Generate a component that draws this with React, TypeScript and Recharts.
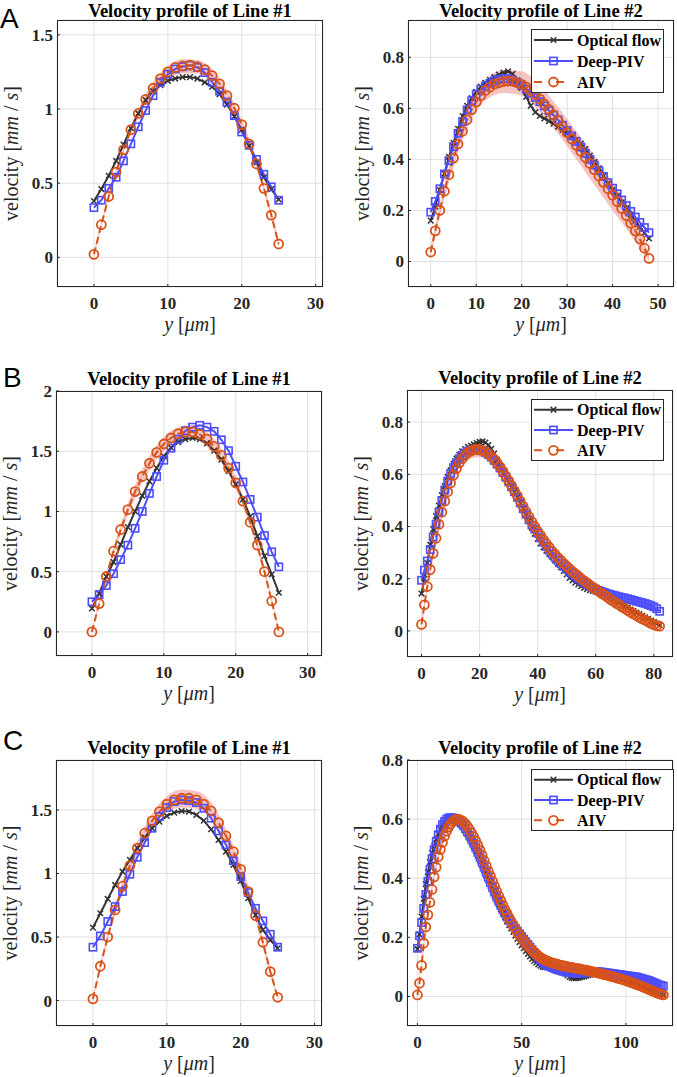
import { ComposedChart, Line, Area, XAxis, YAxis, CartesianGrid } from 'recharts';

const SERIF = '"Liberation Serif", "Times New Roman", Times, serif';
const SANS = '"Liberation Sans", Arial, Helvetica, sans-serif';
const C_OF = '#333333';
const C_PIV = '#4d4dff';
const C_AIV = '#d95319';
const C_BAND = '#f0b0ae';
const C_AXIS = '#262626';

const SERIES_NAMES = ['Optical flow', 'Deep-PIV', 'AIV'];
const TITLE_1 = 'Velocity profile of Line #1';
const TITLE_2 = 'Velocity profile of Line #2';

// ---- row A ----
const A1_OF = [0.38, 0.46, 0.55, 0.65, 0.76, 0.87, 0.97, 1.06, 1.12, 1.16, 1.19, 1.205, 1.215, 1.215, 1.205, 1.18, 1.15, 1.1, 1.03, 0.95, 0.86, 0.75, 0.64, 0.54, 0.46, 0.39];
const A1_PIV = [0.335, 0.385, 0.465, 0.54, 0.65, 0.765, 0.88, 0.99, 1.09, 1.18, 1.235, 1.27, 1.285, 1.295, 1.28, 1.245, 1.18, 1.12, 1.045, 0.955, 0.845, 0.755, 0.66, 0.56, 0.475, 0.385];
const A1_AIV = [0.02, 0.22, 0.41, 0.575, 0.725, 0.86, 0.97, 1.065, 1.14, 1.205, 1.25, 1.28, 1.29, 1.295, 1.285, 1.265, 1.225, 1.17, 1.09, 1.005, 0.895, 0.765, 0.63, 0.465, 0.285, 0.09];
const A1_BAND_X = [0, 2, 4, 6, 8, 10, 12, 14, 16, 18, 20, 22, 24, 25];
const A1_BAND_LO = [0.0, 0.39, 0.7, 0.94, 1.1, 1.2, 1.24, 1.24, 1.18, 1.05, 0.86, 0.6, 0.26, 0.07];
const A1_BAND_HI = [0.04, 0.43, 0.75, 1.0, 1.18, 1.29, 1.335, 1.33, 1.27, 1.13, 0.93, 0.66, 0.31, 0.11];

const A2_OF = [0.16, 0.215, 0.28, 0.345, 0.41, 0.465, 0.52, 0.57, 0.61, 0.64, 0.665, 0.685, 0.7, 0.712, 0.722, 0.732, 0.74, 0.745, 0.735, 0.71, 0.68, 0.645, 0.61, 0.585, 0.57, 0.56, 0.55, 0.54, 0.528, 0.515, 0.502, 0.49, 0.477, 0.462, 0.44, 0.415, 0.39, 0.365, 0.335, 0.305, 0.28, 0.256, 0.232, 0.208, 0.184, 0.16, 0.136, 0.112, 0.09];
const A2_PIV = [0.193, 0.235, 0.285, 0.343, 0.395, 0.45, 0.502, 0.548, 0.594, 0.63, 0.655, 0.675, 0.688, 0.698, 0.707, 0.714, 0.716, 0.716, 0.711, 0.702, 0.689, 0.675, 0.659, 0.642, 0.626, 0.609, 0.591, 0.573, 0.555, 0.534, 0.513, 0.492, 0.47, 0.448, 0.424, 0.4, 0.378, 0.356, 0.333, 0.309, 0.287, 0.265, 0.241, 0.219, 0.196, 0.174, 0.153, 0.133, 0.113];
const A2_AIV = [0.037, 0.12, 0.2, 0.275, 0.34, 0.405, 0.46, 0.51, 0.555, 0.595, 0.625, 0.65, 0.67, 0.683, 0.695, 0.7, 0.705, 0.707, 0.706, 0.7, 0.694, 0.683, 0.67, 0.653, 0.636, 0.616, 0.596, 0.574, 0.552, 0.528, 0.505, 0.48, 0.456, 0.432, 0.408, 0.384, 0.36, 0.335, 0.31, 0.285, 0.26, 0.235, 0.208, 0.18, 0.15, 0.12, 0.088, 0.052, 0.012];
const A2_BAND_X = [0, 4, 8, 12, 16, 20, 24, 28, 32, 36, 40, 44, 48];
const A2_BAND_LO = [0.02, 0.31, 0.52, 0.63, 0.66, 0.65, 0.585, 0.5, 0.4, 0.3, 0.2, 0.105, 0.0];
const A2_BAND_HI = [0.06, 0.37, 0.59, 0.71, 0.75, 0.745, 0.69, 0.605, 0.51, 0.415, 0.31, 0.2, 0.03];

// ---- row B ----
const B1_OF = [0.195, 0.32, 0.46, 0.58, 0.725, 0.87, 1.0, 1.13, 1.25, 1.36, 1.46, 1.53, 1.575, 1.6, 1.61, 1.6, 1.565, 1.505, 1.43, 1.335, 1.225, 1.1, 0.96, 0.795, 0.63, 0.478, 0.325];
const B1_PIV = [0.25, 0.31, 0.385, 0.483, 0.6, 0.72, 0.86, 1.0, 1.15, 1.29, 1.425, 1.525, 1.6, 1.67, 1.7, 1.715, 1.7, 1.665, 1.595, 1.505, 1.375, 1.245, 1.1, 0.953, 0.8, 0.665, 0.54];
const B1_AIV = [0.0, 0.235, 0.46, 0.67, 0.85, 1.015, 1.165, 1.29, 1.4, 1.49, 1.56, 1.61, 1.645, 1.66, 1.66, 1.64, 1.6, 1.54, 1.465, 1.36, 1.237, 1.085, 0.91, 0.72, 0.5, 0.257, 0.0];
const B1_BAND_X = [0, 2, 4, 6, 8, 10, 12, 14, 16, 18, 20, 22, 24, 26];
const B1_BAND_LO = [-0.01, 0.43, 0.81, 1.11, 1.34, 1.5, 1.59, 1.6, 1.54, 1.41, 1.19, 0.87, 0.47, -0.01];
const B1_BAND_HI = [0.02, 0.49, 0.89, 1.22, 1.46, 1.62, 1.7, 1.72, 1.66, 1.52, 1.29, 0.95, 0.53, 0.02];

const B2_OF = [
  0.143, 0.2, 0.26, 0.33, 0.39, 0.44, 0.48, 0.52, 0.555, 0.59,
  0.615, 0.64, 0.66, 0.675, 0.688, 0.697, 0.705, 0.71, 0.715, 0.72,
  0.724, 0.726, 0.722, 0.712, 0.698, 0.68, 0.655, 0.63, 0.605, 0.585,
  0.568, 0.55, 0.532, 0.512, 0.49, 0.468, 0.445, 0.42, 0.395, 0.372,
  0.352, 0.335, 0.32, 0.307, 0.295, 0.283, 0.27, 0.257, 0.244, 0.23,
  0.216, 0.203, 0.193, 0.185, 0.178, 0.171, 0.165, 0.16, 0.156, 0.153,
  0.15, 0.147, 0.143, 0.139, 0.134, 0.128, 0.122, 0.115, 0.108, 0.101,
  0.094, 0.088, 0.082, 0.076, 0.07, 0.064, 0.058, 0.052, 0.046, 0.04,
  0.034, 0.028, 0.022,
];
const B2_PIV = [
  0.194, 0.233, 0.268, 0.312, 0.36, 0.409, 0.456, 0.5, 0.54, 0.574,
  0.603, 0.626, 0.645, 0.66, 0.673, 0.682, 0.689, 0.693, 0.695, 0.695,
  0.694, 0.69, 0.684, 0.676, 0.666, 0.653, 0.639, 0.624, 0.607, 0.589,
  0.571, 0.552, 0.533, 0.512, 0.49, 0.468, 0.447, 0.426, 0.406, 0.39,
  0.375, 0.357, 0.34, 0.324, 0.309, 0.295, 0.282, 0.27, 0.258, 0.247,
  0.237, 0.227, 0.218, 0.209, 0.2, 0.192, 0.185, 0.178, 0.171, 0.165,
  0.16, 0.155, 0.151, 0.147, 0.143, 0.14, 0.137, 0.134, 0.131, 0.128,
  0.126, 0.123, 0.12, 0.117, 0.114, 0.111, 0.108, 0.105, 0.101, 0.097,
  0.092, 0.085, 0.075,
];
const B2_AIV = [
  0.025, 0.1, 0.17, 0.235, 0.297, 0.355, 0.408, 0.455, 0.497, 0.533,
  0.567, 0.597, 0.622, 0.644, 0.66, 0.673, 0.684, 0.69, 0.694, 0.695,
  0.694, 0.691, 0.686, 0.679, 0.668, 0.657, 0.644, 0.629, 0.612, 0.594,
  0.576, 0.557, 0.537, 0.518, 0.497, 0.477, 0.456, 0.437, 0.418, 0.4,
  0.382, 0.366, 0.349, 0.334, 0.32, 0.305, 0.293, 0.281, 0.27, 0.258,
  0.248, 0.238, 0.227, 0.219, 0.21, 0.2, 0.192, 0.184, 0.175, 0.167,
  0.16, 0.152, 0.144, 0.137, 0.129, 0.121, 0.114, 0.106, 0.1, 0.092,
  0.086, 0.078, 0.072, 0.065, 0.059, 0.052, 0.046, 0.041, 0.035, 0.029,
  0.024, 0.02, 0.018,
];
const B2_BAND_X = [0, 5, 10, 15, 20, 25, 30, 35, 40, 45, 50, 55, 60, 65, 70, 75, 80, 82];
const B2_BAND_LO = [0.01, 0.33, 0.54, 0.65, 0.665, 0.635, 0.555, 0.457, 0.364, 0.29, 0.234, 0.187, 0.147, 0.109, 0.074, 0.041, 0.014, 0.008];
const B2_BAND_HI = [0.04, 0.38, 0.595, 0.7, 0.72, 0.68, 0.597, 0.497, 0.4, 0.32, 0.262, 0.213, 0.173, 0.133, 0.098, 0.063, 0.034, 0.028];

// ---- row C ----
const C1_OF = [0.574, 0.687, 0.8, 0.91, 1.015, 1.107, 1.2, 1.282, 1.356, 1.408, 1.453, 1.479, 1.492, 1.487, 1.461, 1.416, 1.348, 1.264, 1.172, 1.067, 0.942, 0.805, 0.674, 0.556, 0.477, 0.412];
const C1_PIV = [0.42, 0.509, 0.622, 0.74, 0.858, 0.994, 1.128, 1.243, 1.356, 1.448, 1.519, 1.566, 1.579, 1.574, 1.558, 1.513, 1.435, 1.335, 1.225, 1.1, 0.976, 0.85, 0.726, 0.627, 0.522, 0.42];
const C1_AIV = [0.013, 0.27, 0.5, 0.713, 0.9, 1.062, 1.2, 1.317, 1.414, 1.487, 1.545, 1.579, 1.592, 1.592, 1.579, 1.545, 1.492, 1.4, 1.296, 1.172, 1.033, 0.858, 0.669, 0.459, 0.228, 0.026];
const C1_BAND_X = [0, 2, 4, 6, 8, 10, 12, 14, 16, 18, 20, 22, 24, 25];
const C1_BAND_LO = [0.0, 0.47, 0.86, 1.15, 1.35, 1.48, 1.52, 1.51, 1.43, 1.24, 0.99, 0.63, 0.2, 0.01];
const C1_BAND_HI = [0.03, 0.53, 0.94, 1.25, 1.47, 1.61, 1.66, 1.65, 1.56, 1.35, 1.08, 0.71, 0.26, 0.04];

const C2_OF = [
  0.16, 0.21, 0.27, 0.33, 0.38, 0.42, 0.455, 0.485, 0.51, 0.532,
  0.55, 0.566, 0.579, 0.589, 0.596, 0.6, 0.602, 0.602, 0.6, 0.596,
  0.59, 0.582, 0.572, 0.561, 0.548, 0.535, 0.521, 0.507, 0.492, 0.476,
  0.46, 0.443, 0.426, 0.409, 0.392, 0.375, 0.358, 0.342, 0.326, 0.311,
  0.296, 0.282, 0.268, 0.255, 0.242, 0.23, 0.218, 0.206, 0.195, 0.184,
  0.173, 0.163, 0.153, 0.144, 0.135, 0.127, 0.12, 0.114, 0.108, 0.104,
  0.1, 0.099, 0.099, 0.1, 0.102, 0.104, 0.104, 0.102, 0.098, 0.092,
  0.085, 0.078, 0.071, 0.066, 0.063, 0.062, 0.062, 0.063, 0.064, 0.066,
  0.068, 0.07, 0.072, 0.074, 0.075, 0.076, 0.076, 0.076, 0.075, 0.074,
  0.073, 0.071, 0.069, 0.067, 0.065, 0.062, 0.06, 0.057, 0.055, 0.052,
  0.05, 0.047, 0.045, 0.042, 0.04, 0.037, 0.035, 0.032, 0.03, 0.027,
  0.025, 0.022, 0.02, 0.017, 0.015, 0.012, 0.01, 0.008, 0.006,
];
const C2_PIV = [
  0.163, 0.205, 0.25, 0.298, 0.345, 0.39, 0.43, 0.466, 0.497, 0.524,
  0.547, 0.566, 0.581, 0.592, 0.6, 0.604, 0.605, 0.604, 0.601, 0.596,
  0.592, 0.586, 0.578, 0.568, 0.557, 0.545, 0.532, 0.518, 0.503, 0.487,
  0.471, 0.454, 0.437, 0.42, 0.403, 0.386, 0.369, 0.353, 0.337, 0.322,
  0.308, 0.294, 0.281, 0.269, 0.257, 0.246, 0.24, 0.23, 0.221, 0.212,
  0.203, 0.194, 0.185, 0.176, 0.167, 0.158, 0.149, 0.141, 0.133, 0.125,
  0.118, 0.112, 0.107, 0.103, 0.1, 0.097, 0.094, 0.091, 0.089, 0.087,
  0.085, 0.083, 0.082, 0.081, 0.08, 0.079, 0.079, 0.079, 0.079, 0.079,
  0.08, 0.081, 0.082, 0.083, 0.084, 0.084, 0.084, 0.083, 0.083, 0.082,
  0.081, 0.08, 0.079, 0.078, 0.077, 0.076, 0.075, 0.074, 0.073, 0.072,
  0.071, 0.07, 0.069, 0.068, 0.067, 0.066, 0.064, 0.062, 0.06, 0.058,
  0.056, 0.054, 0.051, 0.048, 0.045, 0.042, 0.039, 0.037, 0.035,
];
const C2_AIV = [
  0.005, 0.045, 0.105, 0.18, 0.235, 0.276, 0.318, 0.362, 0.404, 0.437,
  0.473, 0.497, 0.521, 0.542, 0.559, 0.573, 0.584, 0.592, 0.597, 0.6,
  0.599, 0.596, 0.591, 0.584, 0.575, 0.565, 0.553, 0.54, 0.526, 0.511,
  0.495, 0.478, 0.46, 0.442, 0.424, 0.407, 0.39, 0.373, 0.356, 0.34,
  0.324, 0.309, 0.294, 0.28, 0.266, 0.253, 0.24, 0.228, 0.217, 0.207,
  0.197, 0.188, 0.179, 0.171, 0.163, 0.156, 0.149, 0.143, 0.137, 0.132,
  0.128, 0.124, 0.121, 0.118, 0.115, 0.113, 0.111, 0.109, 0.107, 0.105,
  0.104, 0.102, 0.101, 0.099, 0.098, 0.097, 0.095, 0.094, 0.093, 0.091,
  0.09, 0.089, 0.087, 0.086, 0.084, 0.082, 0.081, 0.079, 0.077, 0.075,
  0.074, 0.072, 0.07, 0.068, 0.066, 0.064, 0.062, 0.06, 0.058, 0.056,
  0.054, 0.051, 0.049, 0.046, 0.044, 0.041, 0.038, 0.036, 0.033, 0.03,
  0.027, 0.024, 0.021, 0.018, 0.015, 0.012, 0.009, 0.007, 0.005,
];
const C2_BAND_X = [0, 10, 19, 30, 40, 50, 60, 70, 80, 90, 100, 110, 118];
const C2_BAND_LO = [0.0, 0.458, 0.585, 0.48, 0.31, 0.184, 0.116, 0.092, 0.079, 0.063, 0.044, 0.017, -0.004];
const C2_BAND_HI = [0.02, 0.488, 0.615, 0.51, 0.338, 0.21, 0.14, 0.116, 0.101, 0.085, 0.064, 0.037, 0.014];

// sample spacing along the line, in um
const STEP = 1;

const toPoints = (vals: number[]) => vals.map((v, i) => ({ x: i * STEP, v }));
const toBand = (xs: number[], lo: number[], hi: number[]) => xs.map((x, i) => ({ x, band: [lo[i], hi[i]] }));

const PANELS = [
  { id: 'A1', left: 57, top: 20, w: 266, h: 267, gap: 3.5, title: TITLE_1, xDomain: [-5, 31], xTicks: [0, 10, 20, 30], yDomain: [-0.2, 1.6], yTicks: [0, 0.5, 1, 1.5],
    of: A1_OF, piv: A1_PIV, aiv: A1_AIV, band: toBand(A1_BAND_X, A1_BAND_LO, A1_BAND_HI) },
  { id: 'A2', left: 408, top: 20, w: 266, h: 267, gap: 3.5, title: TITLE_2, xDomain: [-5, 53.5], xTicks: [0, 10, 20, 30, 40, 50], yDomain: [-0.1, 0.946], yTicks: [0, 0.2, 0.4, 0.6, 0.8],
    of: A2_OF, piv: A2_PIV, aiv: A2_AIV, band: toBand(A2_BAND_X, A2_BAND_LO, A2_BAND_HI), legend: { dx: 123, dy: 9, w: 132, h: 63 } },
  { id: 'B1', left: 56, top: 391, w: 266, h: 265, gap: 6, title: TITLE_1, xDomain: [-5, 32], xTicks: [0, 10, 20, 30], yDomain: [-0.2, 2], yTicks: [0, 0.5, 1, 1.5, 2],
    of: B1_OF, piv: B1_PIV, aiv: B1_AIV, band: toBand(B1_BAND_X, B1_BAND_LO, B1_BAND_HI) },
  { id: 'B2', left: 407, top: 390, w: 266, h: 267, gap: 6, title: TITLE_2, xDomain: [-5, 86.6], xTicks: [0, 20, 40, 60, 80], yDomain: [-0.1, 0.923], yTicks: [0, 0.2, 0.4, 0.6, 0.8],
    of: B2_OF, piv: B2_PIV, aiv: B2_AIV, band: toBand(B2_BAND_X, B2_BAND_LO, B2_BAND_HI), legend: { dx: 124, dy: 9, w: 132, h: 61 } },
  { id: 'C1', left: 56, top: 760, w: 266, h: 266, gap: 6, title: TITLE_1, xDomain: [-5, 31], xTicks: [0, 10, 20, 30], yDomain: [-0.2, 1.893], yTicks: [0, 0.5, 1, 1.5],
    of: C1_OF, piv: C1_PIV, aiv: C1_AIV, band: toBand(C1_BAND_X, C1_BAND_LO, C1_BAND_HI) },
  { id: 'C2', left: 407, top: 760, w: 266, h: 266, gap: 6, title: TITLE_2, xDomain: [-5, 122.6], xTicks: [0, 50, 100], yDomain: [-0.1, 0.8], yTicks: [0, 0.2, 0.4, 0.6, 0.8],
    of: C2_OF, piv: C2_PIV, aiv: C2_AIV, band: toBand(C2_BAND_X, C2_BAND_LO, C2_BAND_HI), legend: { dx: 124, dy: 9, w: 142, h: 61 } },
];

const LETTERS = [
  { t: 'A', x: 0, y: 28 },
  { t: 'B', x: 3, y: 387 },
  { t: 'C', x: 3, y: 750 },
];

// markers
const crossPath = (cx: number, cy: number, r = 2.8) =>
  `M${cx - r} ${cy - r}L${cx + r} ${cy + r}M${cx - r} ${cy + r}L${cx + r} ${cy - r}`;

const CrossMark = ({ cx, cy }: { cx: number; cy: number }) => (
  <path d={crossPath(cx, cy)} stroke={C_OF} strokeWidth={1.5} fill="none" />
);
const SquareMark = ({ cx, cy }: { cx: number; cy: number }) => (
  <rect x={cx - 3.6} y={cy - 3.6} width={7.2} height={7.2} stroke={C_PIV} strokeWidth={1.6} fill="none" />
);
const CircleMark = ({ cx, cy }: { cx: number; cy: number }) => (
  <circle cx={cx} cy={cy} r={4.5} stroke={C_AIV} strokeWidth={1.8} fill="none" />
);

const dotOf = (Mark: any) => (p: any) => {
  if (p.cx == null || p.cy == null) return <g key={p.index} />;
  return <Mark key={p.index} cx={p.cx} cy={p.cy} />;
};

const tickText = { fill: C_AXIS, fontSize: 17, fontWeight: 700, fontFamily: SERIF };

const XTick = (p: any) => (
  <text x={p.x} y={p.y} dy="0.71em" textAnchor="middle" style={tickText} fill={C_AXIS}>{p.payload.value}</text>
);
const YTick = (p: any) => (
  <text x={p.x} y={p.y} dy="0.35em" textAnchor="end" style={tickText} fill={C_AXIS}>{p.payload.value}</text>
);

const ML = 56;
const MT = 30;
const MB = 50;
const TICK_IN = 3;

function Legend2({ box }: { box: { dx: number; dy: number; w: number; h: number } }) {
  const x0 = ML + box.dx;
  const y0 = MT + box.dy;
  const row = box.h / 3;
  const marks = [CrossMark, SquareMark, CircleMark];
  const colors = [C_OF, C_PIV, C_AIV];
  return (
    <g>
      <rect x={x0 + 0.5} y={y0 + 0.5} width={box.w} height={box.h} fill="#fff" stroke={C_AXIS} strokeWidth={1} />
      {SERIES_NAMES.map((name, i) => {
        const cy = y0 + row * (i + 0.5) + 0.5;
        const Mark = marks[i];
        return (
          <g key={name}>
            <line x1={x0 + 3} x2={x0 + 42} y1={cy} y2={cy} stroke={colors[i]} strokeWidth={2}
              strokeDasharray={i === 2 ? '8 14' : undefined} />
            <Mark cx={x0 + 22.5} cy={cy} />
            <text x={x0 + 46} y={cy + 5.5} style={{ fontFamily: SERIF, fontWeight: 700, fontSize: 16 }} fill="#000">{name}</text>
          </g>
        );
      })}
    </g>
  );
}

function Panel({ p }: { p: any }) {
  const W = p.w + ML + 4;
  const H = p.h + MT + MB;
  const cx = ML + p.w / 2;
  const cy = MT + p.h / 2;
  const labelStyle = { fontFamily: SERIF, fontSize: 20, fontWeight: 400 };
  return (
    <div style={{ position: 'absolute', left: p.left - ML, top: p.top - MT, width: W, height: H }}>
      <ComposedChart width={W} height={H} margin={{ top: MT, right: 4, bottom: 0, left: 0 }}>
        <CartesianGrid stroke="#e0e0e0" strokeWidth={1} />
        <XAxis type="number" dataKey="x" domain={p.xDomain} ticks={p.xTicks} interval={0} allowDataOverflow
          height={MB} tickSize={-TICK_IN} tickMargin={10 + TICK_IN} axisLine={false}
          tickLine={{ stroke: C_AXIS, strokeWidth: 1 }} tick={<XTick />} />
        <YAxis type="number" domain={p.yDomain} ticks={p.yTicks} interval={0} allowDataOverflow
          width={ML} tickSize={-TICK_IN} tickMargin={4 + TICK_IN} axisLine={false}
          tickLine={{ stroke: C_AXIS, strokeWidth: 1 }} tick={<YTick />} />
        <Area data={p.band} dataKey="band" type="monotone" stroke="none" fill={C_BAND} fillOpacity={0.75}
          isAnimationActive={false} dot={false} activeDot={false} />
        <Line data={toPoints(p.of)} dataKey="v" stroke={C_OF} strokeWidth={2} dot={dotOf(CrossMark)}
          activeDot={false} isAnimationActive={false} />
        <Line data={toPoints(p.piv)} dataKey="v" stroke={C_PIV} strokeWidth={2} dot={dotOf(SquareMark)}
          activeDot={false} isAnimationActive={false} />
        <Line data={toPoints(p.aiv)} dataKey="v" stroke={C_AIV} strokeWidth={2} strokeDasharray="7 4"
          dot={dotOf(CircleMark)} activeDot={false} isAnimationActive={false} />
      </ComposedChart>
      <svg width={W} height={H} style={{ position: 'absolute', left: 0, top: 0, overflow: 'visible', pointerEvents: 'none' }}>
        <rect x={ML + 0.5} y={MT + 0.5} width={p.w - 1} height={p.h - 1} fill="none" stroke={C_AXIS} strokeWidth={1} />
        <text x={cx} y={MT - p.gap} textAnchor="middle" style={{ fontFamily: SERIF, fontWeight: 700, fontSize: 18.5 }} fill="#000">{p.title}</text>
        <text x={cx} y={MT + p.h + 44} textAnchor="middle" style={labelStyle} fill={C_AXIS}>
          <tspan fontStyle="italic">y</tspan>
          <tspan> [</tspan>
          <tspan fontStyle="italic">μm</tspan>
          <tspan>]</tspan>
        </text>
        <text x={16.5} y={cy} transform={`rotate(-90 16.5 ${cy})`} textAnchor="middle" style={labelStyle} fill={C_AXIS}>
          <tspan>velocity [</tspan>
          <tspan fontStyle="italic">mm</tspan>
          <tspan> / </tspan>
          <tspan fontStyle="italic">s</tspan>
          <tspan>]</tspan>
        </text>
        {p.legend && <Legend2 box={p.legend} />}
      </svg>
    </div>
  );
}

export default function App() {
  return (
    <div style={{ position: 'absolute', left: 0, top: 0, width: 677, height: 1077, background: '#fff', overflow: 'hidden', fontFamily: SERIF }}>
      {PANELS.map((p) => <Panel key={p.id} p={p} />)}
      <svg width={677} height={1077} style={{ position: 'absolute', left: 0, top: 0, pointerEvents: 'none' }}>
        {LETTERS.map((l) => (
          <text key={l.t} x={l.x} y={l.y} style={{ fontFamily: SANS, fontSize: 28 }} fill="#000">{l.t}</text>
        ))}
      </svg>
    </div>
  );
}
